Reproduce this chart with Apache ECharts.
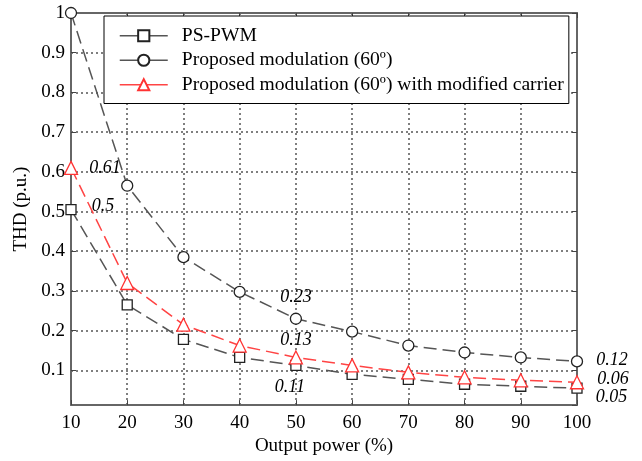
<!DOCTYPE html>
<html>
<head>
<meta charset="utf-8">
<script src="https://cdn.jsdelivr.net/npm/echarts@6/dist/echarts.min.js"></script>
<style>html,body{margin:0;padding:0;background:#fff}#c{width:642px;height:461px}</style>
</head>
<body>
<div id="c"></div>
<script>
var outputPower = [10, 20, 30, 40, 50, 60, 70, 80, 90, 100];
var psPwm = [0.505, 0.265, 0.178, 0.1325, 0.1125, 0.09, 0.0775, 0.065, 0.06, 0.055];
var proposed60 = [1.0, 0.565, 0.385, 0.2975, 0.23, 0.1975, 0.1625, 0.145, 0.1325, 0.1225];
var proposedMod = [0.61, 0.32, 0.215, 0.1625, 0.1325, 0.1125, 0.095, 0.0825, 0.075, 0.07];
var seriesNames = ['PS-PWM', 'Proposed modulation (60º)', 'Proposed modulation (60º) with modified carrier'];
// annotations: [seriesIndex, pointIndex, text]
var annotations = [
  [2, 0, '0.61'], [0, 0, '0.5'], [1, 4, '0.23'], [2, 4, '0.13'], [0, 4, '0.11'],
  [1, 9, '0.12'], [2, 9, '0.06'], [0, 9, '0.05']
];
var labelPlacement = {
  '2_0': {position: 'right', offset: [6, 0]},
  '0_0': {position: 'right', offset: [10, -3]},
  '1_4': {position: 'top', offset: [0, -1]},
  '2_4': {position: 'top', offset: [0, 4]},
  '0_4': {position: 'bottom', offset: [-6, 2]},
  '1_9': {position: 'right', offset: [8, -1]},
  '2_9': {position: 'right', offset: [8, -3]},
  '0_9': {position: 'right', offset: [8, 9]}
};
var FONT = 'Liberation Serif';
function buildData(si, vals) {
  return vals.map(function (v, i) {
    var item = {value: [outputPower[i], v]};
    annotations.forEach(function (a) {
      if (a[0] === si && a[1] === i) {
        var p = labelPlacement[si + '_' + i];
        item.label = {show: true, formatter: a[2], position: p.position, offset: p.offset,
          fontFamily: FONT, fontStyle: 'italic', fontSize: 18, color: '#000'};
      }
    });
    return item;
  });
}
var chart = echarts.init(document.getElementById('c'), null, {renderer: 'canvas'});
var axisLineStyle = {color: '#666', width: 2};
var gridLine = {show: true, lineStyle: {color: '#555', width: 1.5, type: [2, 3]}};
var option = {
  backgroundColor: '#fff',
  animation: false,
  grid: {left: 71, right: 65, top: 13, bottom: 53, containLabel: false},
  legend: {
    left: 104, top: 16,
    orient: 'vertical',
    backgroundColor: '#fff',
    borderColor: '#000', borderWidth: 1,
    padding: [8, 5, 7, 15],
    itemWidth: 48, itemHeight: 14, itemGap: 1,
    textStyle: {fontFamily: FONT, fontSize: 19.6, color: '#000', lineHeight: 23.5, padding: [0, 0, 0, 9]},
    lineStyle: {type: 'solid', width: 1.5},
    data: seriesNames
  },
  xAxis: [{
    type: 'value', min: 10, max: 100, interval: 10, position: 'bottom',
    name: 'Output power (%)', nameLocation: 'middle', nameGap: 30,
    nameTextStyle: {fontFamily: FONT, fontSize: 19, color: '#000'},
    axisLine: {show: true, lineStyle: axisLineStyle},
    axisTick: {show: true, inside: true, length: 5, lineStyle: {color: '#444'}},
    axisLabel: {fontFamily: FONT, fontSize: 19, color: '#000', margin: 8},
    splitLine: gridLine
  }, {
    type: 'value', min: 10, max: 100, interval: 10, position: 'top',
    axisLine: {show: true, lineStyle: axisLineStyle},
    axisTick: {show: true, inside: true, length: 5, lineStyle: {color: '#444'}},
    axisLabel: {show: false}, splitLine: {show: false}
  }],
  yAxis: [{
    type: 'value', min: 0.0125, max: 1, splitNumber: 10, position: 'left',
    name: 'THD (p.u.)', nameLocation: 'middle', nameGap: 39,
    nameTextStyle: {fontFamily: FONT, fontSize: 19, color: '#000'},
    axisLine: {show: true, lineStyle: axisLineStyle},
    axisTick: {show: true, inside: true, length: 5, lineStyle: {color: '#444'}},
    axisLabel: {fontFamily: FONT, fontSize: 19, color: '#000', margin: 6, showMinLabel: false},
    splitLine: gridLine
  }, {
    type: 'value', min: 0.0125, max: 1, splitNumber: 10, position: 'right',
    axisLine: {show: true, lineStyle: axisLineStyle},
    axisTick: {show: true, inside: true, length: 5, lineStyle: {color: '#444'}},
    axisLabel: {show: false}, splitLine: {show: false}
  }],
  series: [{
    name: seriesNames[0], type: 'line', xAxisIndex: 0, yAxisIndex: 0,
    data: buildData(0, psPwm),
    symbol: 'rect', symbolSize: 10,
    itemStyle: {color: '#fff', borderColor: '#222', borderWidth: 1.3},
    lineStyle: {color: '#555', width: 1.5, type: [13, 6]},
    z: 3
  }, {
    name: seriesNames[1], type: 'line', xAxisIndex: 0, yAxisIndex: 0,
    data: buildData(1, proposed60),
    symbol: 'circle', symbolSize: 11,
    itemStyle: {color: '#fff', borderColor: '#222', borderWidth: 1.3},
    lineStyle: {color: '#555', width: 1.5, type: [13, 6]},
    z: 3
  }, {
    name: seriesNames[2], type: 'line', xAxisIndex: 0, yAxisIndex: 0,
    data: buildData(2, proposedMod),
    symbol: 'triangle', symbolSize: 13,
    itemStyle: {color: '#fff', borderColor: '#ff3333', borderWidth: 1.3},
    lineStyle: {color: '#ff4444', width: 1.5, type: [13, 6]},
    z: 4
  }]
};
chart.setOption(option);
</script>
</body>
</html>
